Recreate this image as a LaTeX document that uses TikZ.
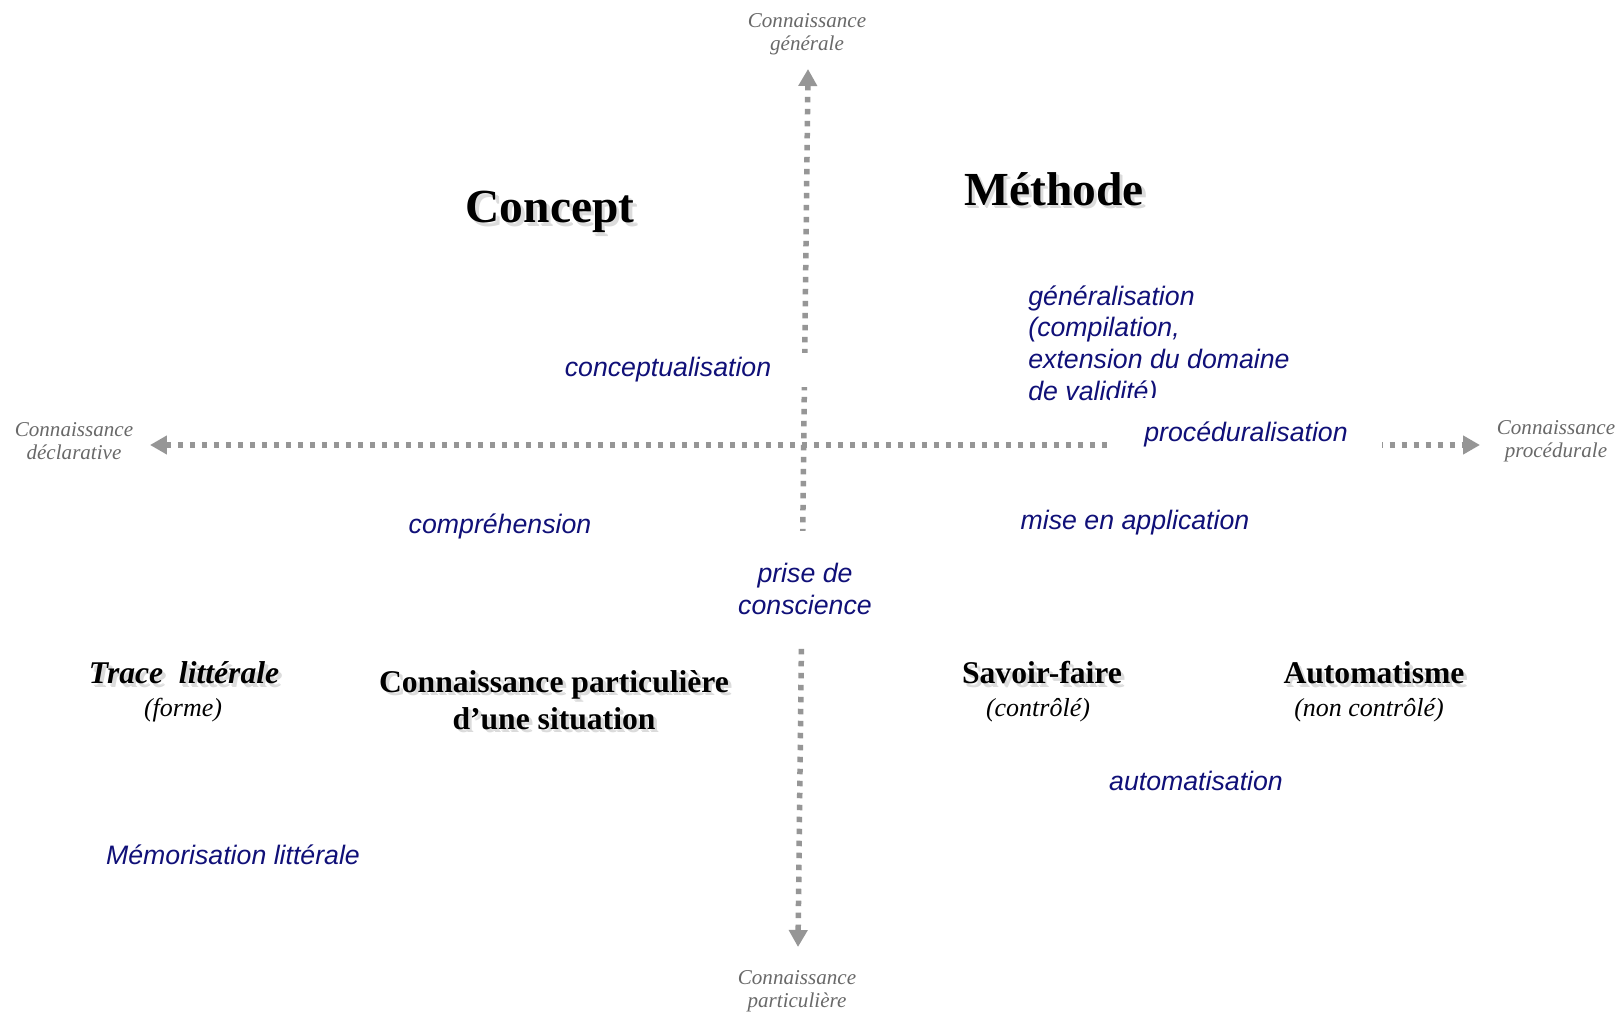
\documentclass[tikz,border=0pt]{standalone}
\usepackage{fontspec}
\setmainfont{Liberation Serif}
\newfontfamily\arialfont{Liberation Sans}
\usetikzlibrary{
    arrows.meta,
    positioning
}
\definecolor{bleuNuit}{RGB}{16,16,120}
\definecolor{grisAxe}{RGB}{150,150,150}
\definecolor{grisTexte}{RGB}{105,105,105}
\tikzset{
  axe/.style       = {grisAxe, line width=1.1mm, dash pattern=on 1.1mm off 1.3mm,
                      {Triangle[length=3.4mm,width=3.6mm]}-{Triangle[length=3.4mm,width=3.6mm]}},
  pole/.style      = {align=center, text=grisTexte, inner sep=0pt,
                      font=\fontsize{12}{13.2}\selectfont\itshape},
  processus/.style = {align=left, text=bleuNuit, inner sep=0pt,
                      font=\arialfont\fontsize{15.2}{18.2}\selectfont\itshape},
  cache/.style     = {fill=white, align=center},
  titre/.style     = {font=\bfseries\fontsize{27}{30}\selectfont},
  etat/.style      = {align=center, font=\bfseries\fontsize{18}{21}\selectfont},
  nuance/.style    = {font=\fontsize{14.8}{17}\selectfont\itshape},
  ombre/.style     = {text=black!#1, xshift=#1*0.05mm, yshift=-#1*0.05mm}
}
% texte noir avec son ombre portee (adoucie)
\newcommand{\ombree}[4]{%
  \node[#1, ombre=10] at (#3) {#4};
  \node[#1, ombre=14] at (#3) {#4};
  \node[#1] (#2) at (#3) {#4};}

\begin{document}
\begin{tikzpicture}[x=0.02cm, y=-0.02cm]
  \fill[white] (0,0) rectangle (1623,1013);
  \useasboundingbox (0,0) rectangle (1623,1013);

  % Poles
  \node[pole] (generale)     at (807,34)  {Connaissance\\générale};
  \node[pole] (declarative)  at (74,441)  {Connaissance\\déclarative};
  \node[pole] (procedurale)  at (1556,441) {Connaissance\\procédurale};
  \node[pole] (particuliere) at (797,991) {Connaissance\\particulière};

  % Axes
  \coordinate (haut)   at (808,69);
  \coordinate (bas)    at (798,947);
  \coordinate (gauche) at (150,445);
  \coordinate (droite) at (1480,445);
  \draw[axe] (haut) -- (bas);
  \draw[axe] (gauche) -- (droite);

  % Titres
  \ombree{titre}{concept}{550,212}{Concept}
  \ombree{titre}{methode}{1054,189}{Méthode}

  % Etats
  \ombree{etat}{trace}{184,673}{\itshape Trace~~littérale}
  \node[nuance] (forme) at (183,710) {(forme)};
  \ombree{etat}{situation}{554,700}{Connaissance particulière\\d’une situation}
  \ombree{etat}{savoir}{1042,673}{Savoir-faire}
  \node[nuance] (controle) at (1038,710) {(contrôlé)};
  \ombree{etat}{automatisme}{1374,673}{Automatisme}
  \node[nuance] (noncontrole) at (1369,710) {(non contrôlé)};

  % Processus
  \node[processus, cache, minimum width=5.76cm, minimum height=0.7cm]
    (conceptualisation) at (668,370) {conceptualisation};
  \node[processus, anchor=north west] (generalisation) at (1028,285)
    {généralisation\\(compilation,\\extension du domaine\\de validité)};
  \node[processus, cache, minimum width=5.44cm, minimum height=1.46cm]
    (proceduralisation) at (1246,434) {procéduralisation};
  \node[processus, cache, minimum width=3cm, minimum height=2.34cm]
    (prise) at (805,589) {prise de\\conscience};
  \node[processus] (comprehension)  at (500,526)  {compréhension};
  \node[processus] (application)    at (1135,523) {mise en application};
  \node[processus] (automatisation) at (1196,781) {automatisation};
  \node[processus] (memorisation)   at (233,855)  {Mémorisation littérale};
\end{tikzpicture}
\end{document}
